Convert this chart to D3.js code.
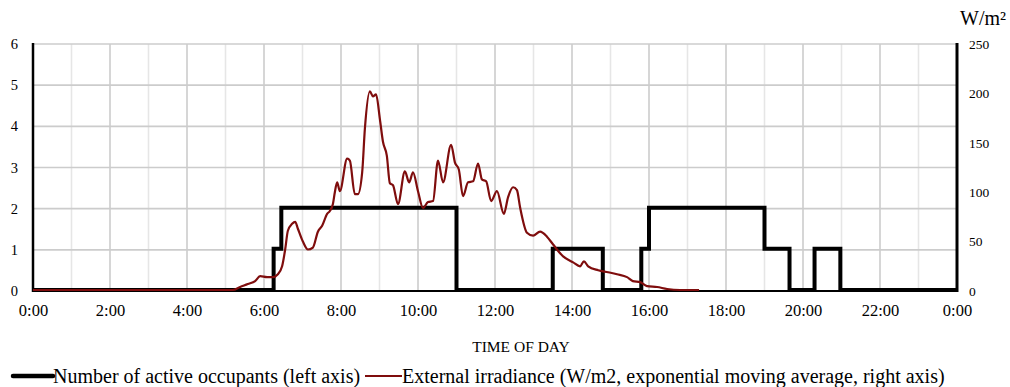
<!DOCTYPE html>
<html>
<head>
<meta charset="utf-8">
<script src="https://cdn.jsdelivr.net/npm/d3@7"></script>
<style>
  html, body { margin: 0; padding: 0; background: #fff; }
  svg { display: block; font-family: "Liberation Serif", "Times New Roman", serif; }
</style>
</head>
<body>
<svg id="chart" width="1010" height="387"></svg>
<script>
// ---- Data ----
const hourTicks = [0, 2, 4, 6, 8, 10, 12, 14, 16, 18, 20, 22, 24];
const hourTickLabels = ["0:00", "2:00", "4:00", "6:00", "8:00", "10:00", "12:00", "14:00", "16:00", "18:00", "20:00", "22:00", "0:00"];
const leftTicks = [0, 1, 2, 3, 4, 5, 6];
const rightTicks = [0, 50, 100, 150, 200, 250];

// Occupancy (step after): time in hours, number of active occupants
const occTimes  = [0, 6.25, 6.45, 11.0, 13.5, 14.8, 15.8, 16.0, 19.0, 19.65, 20.3, 20.97, 24];
const occValues = [0, 1,    2,    0,    1,    0,    1,    2,    1,    0,     1,    0,     0];

// External irradiance (W/m2, EMA): time in hours, value
const irrTimes = [0, 5.19, 5.38, 5.58, 5.77, 5.90, 6.08, 6.23, 6.36, 6.47, 6.55, 6.62, 6.73, 6.81, 6.88,
  7.01, 7.14, 7.27, 7.40, 7.51, 7.64, 7.71, 7.79, 7.84, 7.90, 7.97, 8.16, 8.23, 8.36, 8.44, 8.55, 8.62,
  8.75, 8.83, 8.91, 9.01, 9.09, 9.19, 9.27, 9.35, 9.48, 9.66, 9.77, 9.87, 10.0, 10.13, 10.26, 10.39,
  10.52, 10.65, 10.86, 10.96, 11.06, 11.17, 11.30, 11.43, 11.56, 11.66, 11.77, 11.90, 12.05, 12.23,
  12.34, 12.47, 12.57, 12.65, 12.83, 12.99, 13.17, 13.35, 13.51, 13.77, 14.03, 14.21, 14.31, 14.42,
  14.68, 14.94, 15.17, 15.43, 15.58, 15.77, 15.95, 16.21, 16.47, 16.81, 17.3];
const irrValues = [0, 0, 3, 6, 9, 14, 13, 13, 16, 24, 41, 60, 67, 69, 62,
  49, 41, 43, 59, 65, 77, 80, 87, 99, 109, 100, 133, 131, 97, 97, 119, 163,
  201, 196, 198, 173, 150, 136, 108, 106, 87, 120, 109, 119, 100, 83, 89, 90,
  131, 109, 147, 129, 122, 95, 109, 110, 128, 112, 110, 90, 100, 77,
  94, 104, 101, 84, 58, 55, 59, 54, 46, 34, 28, 24, 29, 24,
  20, 18, 16, 13, 9, 8, 4, 3, 1, 0, 0];

const legendLabels = ["Number of active occupants (left axis)", "External irradiance (W/m2, exponential moving average, right axis)"];

// ---- Layout ----
const X0 = 33, X1 = 957, Y0 = 291, Y1 = 44;
const RED = "#7f0d0d";
const svg = d3.select("#chart");
const x = d3.scaleLinear().domain([0, 24]).range([X0, X1]);
const yL = d3.scaleLinear().domain([0, 6]).range([Y0, Y1]);
const yR = d3.scaleLinear().domain([0, 250]).range([Y0, Y1]);

// Grid: vertical every hour (even hours darker)
const gridG = svg.append("g");
gridG.selectAll("line.v").data(d3.range(1, 24)).join("line")
  .attr("x1", d => x(d)).attr("x2", d => x(d))
  .attr("y1", Y1).attr("y2", Y0)
  .attr("stroke", d => d % 2 === 0 ? "#cccccc" : "#e6e6e6")
  .attr("stroke-width", 1.6);
gridG.selectAll("line.h").data(leftTicks.slice(1)).join("line")
  .attr("x1", X0).attr("x2", X1)
  .attr("y1", d => yL(d)).attr("y2", d => yL(d))
  .attr("stroke", "#cccccc").attr("stroke-width", 1.6);

// Axes
const axL = d3.axisLeft(yL).tickValues(leftTicks).tickSize(0).tickPadding(15).tickFormat(d3.format("d"));
const gL = svg.append("g").attr("transform", `translate(${X0},0)`).call(axL);
gL.select(".domain").remove();
gL.selectAll("text").attr("font-size", 14.5).attr("font-family", "Liberation Serif").attr("fill", "#000");

const axR = d3.axisRight(yR).tickValues(rightTicks).tickSize(0).tickPadding(12).tickFormat(d3.format("d"));
const gR = svg.append("g").attr("transform", `translate(${X1},0)`).call(axR);
gR.select(".domain").remove();
gR.selectAll("text").attr("font-size", 13.5).attr("font-family", "Liberation Serif").attr("fill", "#000");

const axB = d3.axisBottom(x).tickValues(hourTicks).tickSize(0).tickPadding(13)
  .tickFormat((d, i) => hourTickLabels[i]);
const gB = svg.append("g").attr("transform", `translate(0,${Y0})`).call(axB);
gB.select(".domain").remove();
gB.selectAll("text").attr("font-size", 16.5).attr("font-family", "Liberation Serif").attr("fill", "#000");

// Axis lines
svg.append("line").attr("x1", X0).attr("x2", X0).attr("y1", Y1 - 1).attr("y2", Y0 + 1)
  .attr("stroke", "#000").attr("stroke-width", 2.5);
svg.append("line").attr("x1", X1).attr("x2", X1).attr("y1", Y1 - 1).attr("y2", Y0 + 1)
  .attr("stroke", "#000").attr("stroke-width", 3);
svg.append("line").attr("x1", X0).attr("x2", X1).attr("y1", Y0).attr("y2", Y0)
  .attr("stroke", "#000").attr("stroke-width", 2);

// Occupancy line
const occData = occTimes.map((t, i) => [t, occValues[i]]);
svg.append("path").datum(occData)
  .attr("fill", "none").attr("stroke", "#000").attr("stroke-width", 4)
  .attr("stroke-linejoin", "miter")
  .attr("d", d3.line().x(d => x(d[0])).y(d => yL(d[1]) - 1).curve(d3.curveStepAfter));

// Irradiance line
const irrData = irrTimes.map((t, i) => [t, irrValues[i]]);
svg.append("path").datum(irrData)
  .attr("fill", "none").attr("stroke", RED).attr("stroke-width", 2.2)
  .attr("stroke-linejoin", "round")
  .attr("d", d3.line().x(d => x(d[0])).y(d => yR(d[1]) - 1).curve(d3.curveMonotoneX));

// Unit label
svg.append("text").attr("x", 960).attr("y", 25).attr("font-size", 20).attr("fill", "#000").text("W/m²");

// X axis title
svg.append("text").attr("x", 521).attr("y", 352).attr("text-anchor", "middle")
  .attr("font-size", 15.5).attr("fill", "#000").text("TIME OF DAY");

// Legend
svg.append("line").attr("x1", 13).attr("x2", 53).attr("y1", 376).attr("y2", 376)
  .attr("stroke", "#000").attr("stroke-width", 4.5).attr("stroke-linecap", "round");
svg.append("text").attr("x", 53).attr("y", 383).attr("font-size", 20).attr("fill", "#000").text(legendLabels[0]);
svg.append("line").attr("x1", 365).attr("x2", 402).attr("y1", 376).attr("y2", 376)
  .attr("stroke", RED).attr("stroke-width", 2.2);
svg.append("text").attr("x", 402).attr("y", 383).attr("font-size", 20).attr("fill", "#000").text(legendLabels[1]);
</script>
</body>
</html>
